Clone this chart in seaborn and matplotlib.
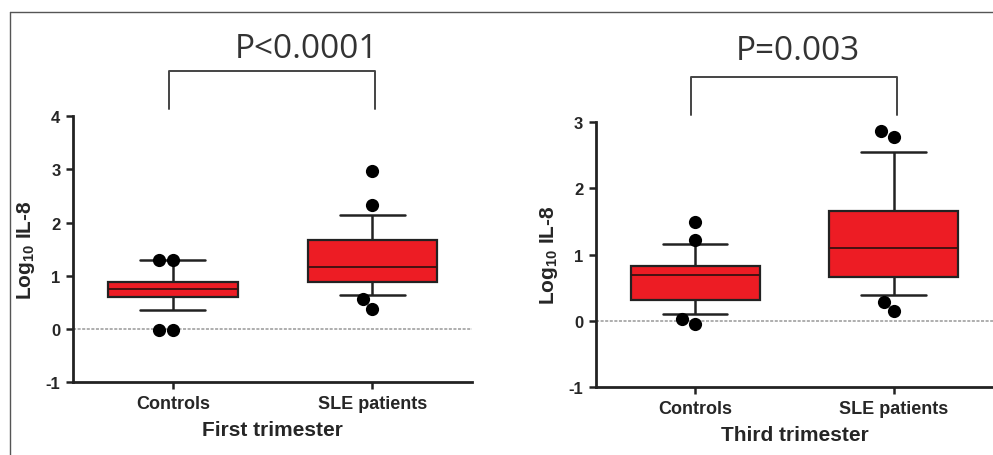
import pandas as pd
import numpy as np
import seaborn as sns
import matplotlib.pyplot as plt
from matplotlib.lines import Line2D

# five-number summaries: [lower whisker, Q1, median, Q3, upper whisker]
groups = ['Controls', 'SLE patients']
first_controls = [0.36, 0.60, 0.75, 0.88, 1.30]
first_sle = [0.64, 0.88, 1.17, 1.67, 2.15]
third_controls = [0.10, 0.32, 0.69, 0.83, 1.16]
third_sle = [0.39, 0.66, 1.10, 1.66, 2.55]

# points outside the whiskers
first_controls_out = [1.30, 1.30, -0.03, -0.03]
first_sle_out = [2.97, 2.33, 0.57, 0.38]
third_controls_out = [1.49, 1.22, 0.03, -0.05]
third_sle_out = [2.87, 2.78, 0.29, 0.15]

p_texts = ['P<0.0001', 'P=0.003']
x_titles = ['First trimester', 'Third trimester']
y_ticks_first = [-1, 0, 1, 2, 3, 4]
y_ticks_third = [-1, 0, 1, 2, 3]

sns.set_style('ticks')
plt.rcParams['font.family'] = ['Liberation Sans', 'DejaVu Sans']
plt.rcParams['font.weight'] = 'bold'
plt.rcParams['mathtext.fontset'] = 'custom'
plt.rcParams['mathtext.rm'] = 'Liberation Sans:bold'
plt.rcParams['mathtext.it'] = 'Liberation Sans:bold'

red = '#ED1C24'
dark = '#222222'


def long_df(a, b):
    return pd.DataFrame({'group': [groups[0]] * len(a) + [groups[1]] * len(b),
                         'value': list(a) + list(b)})


fig = plt.figure(figsize=(9.93, 4.56), dpi=100)
ax1 = fig.add_axes([0.0735, 0.160, 0.402, 0.583])
ax2 = fig.add_axes([0.600, 0.149, 0.400, 0.581])

panels = [
    (ax1, first_controls, first_sle, first_controls_out, first_sle_out, (-1, 4), y_ticks_first, 0.67, 1.255),
    (ax2, third_controls, third_sle, third_controls_out, third_sle_out, (-1, 3), y_ticks_third, 0.52, 1.27),
]

for i, (ax, c, s, co, so, ylim, yt, ptx, pty) in enumerate(panels):
    ax.axhline(0, color='#999999', lw=1.1, ls=(0, (2, 1)), zorder=0)
    sns.boxplot(data=long_df(c, s), x='group', y='value', order=groups, ax=ax,
                whis=(0, 100), width=0.65, color=red, saturation=1,
                linecolor=dark, linewidth=1.6, fliersize=0,
                medianprops=dict(color='#3a1010', lw=1.3),
                whiskerprops=dict(color=dark, lw=1.8),
                capprops=dict(color=dark, lw=1.8))
    sns.swarmplot(data=long_df(co, so), x='group', y='value', order=groups, ax=ax,
                  color='black', size=9.5, zorder=5)
    ax.set_xlim(-0.5, 1.5)
    ax.set_ylim(*ylim)
    ax.set_yticks(yt)
    ax.set_yticklabels([str(v) for v in yt], fontsize=12, fontweight='bold')
    ax.set_xticks([0, 1])
    ax.set_xticklabels(groups, fontsize=13, fontweight='bold')
    ax.set_xlabel(x_titles[i], fontsize=15, fontweight='bold', labelpad=6)
    ax.set_ylabel('Log$_{10}$ IL-8', fontsize=15, fontweight='bold', labelpad=6)
    sns.despine(ax=ax)
    for sp in ['left', 'bottom']:
        ax.spines[sp].set_linewidth(2.0)
        ax.spines[sp].set_color(dark)
    ax.tick_params(axis='both', direction='out', length=5, width=1.8, color=dark, pad=4)
    ax.patch.set_alpha(0)

    # significance bracket
    tr = ax.get_xaxis_transform()
    ax.plot([-0.02, -0.02, 1.015, 1.015], [1.026, 1.17, 1.17, 1.026], transform=tr,
            color='#444444', lw=1.4, clip_on=False)
    ax.text(ptx, pty, p_texts[i], transform=tr, ha='center', va='center',
            fontsize=24, fontweight='normal', color='#333333', family='Open Sans')

# outer frame lines
fig.add_artist(Line2D([10 / 993, 1], [1 - 13 / 456, 1 - 13 / 456], color='#555555', lw=1.0))
fig.add_artist(Line2D([10 / 993, 10 / 993], [0, 1 - 13 / 456], color='#555555', lw=1.0))

fig.savefig('out.png', dpi=100)
